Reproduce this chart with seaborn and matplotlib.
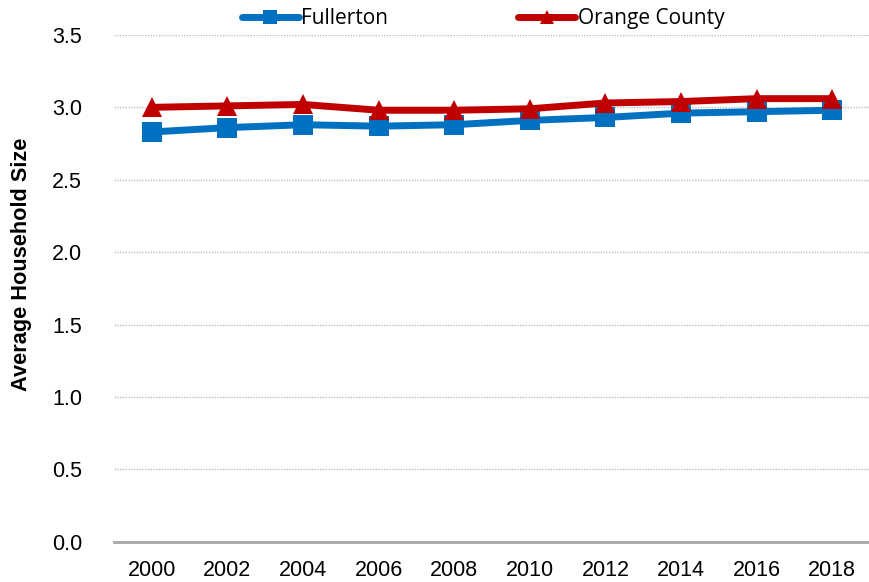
import pandas as pd
import matplotlib
matplotlib.use('Agg')
import matplotlib.pyplot as plt
import seaborn as sns

years = ['2000', '2002', '2004', '2006', '2008', '2010', '2012', '2014', '2016', '2018']
fullerton = [2.83, 2.86, 2.88, 2.87, 2.88, 2.91, 2.93, 2.96, 2.97, 2.98]
orange_county = [3.00, 3.01, 3.02, 2.98, 2.98, 2.99, 3.03, 3.04, 3.06, 3.06]
series_names = ['Fullerton', 'Orange County']

df = pd.DataFrame({
    'year': years * 2,
    'size': fullerton + orange_county,
    'area': [series_names[0]] * len(years) + [series_names[1]] * len(years),
})

sns.set_style('white')
plt.rcParams['font.family'] = ['Liberation Sans', 'DejaVu Sans']
plt.rcParams['text.color'] = 'black'
plt.rcParams['axes.labelcolor'] = 'black'

fig = plt.figure(figsize=(8.7, 5.82), dpi=100)
ax = fig.add_axes([0.131, 0.069, 0.869, 0.871])

sns.lineplot(data=df, x='year', y='size', hue='area', style='area',
             palette={'Fullerton': '#0070C0', 'Orange County': '#C00000'},
             markers={'Fullerton': 's', 'Orange County': '^'},
             dashes=False, linewidth=5, markersize=15, markeredgewidth=0,
             ax=ax, zorder=3)

ax.set_ylim(0, 3.5)
ax.set_xlim(-0.5, len(years) - 0.5)
ax.set_yticks([0, 0.5, 1.0, 1.5, 2.0, 2.5, 3.0, 3.5])
ax.set_yticklabels([f'{v:.1f}' for v in ax.get_yticks()])
ax.yaxis.grid(True, color='#BFBFBF', linestyle=(0, (1, 1)), linewidth=1)
ax.set_axisbelow(True)
for s in ['top', 'right', 'left']:
    ax.spines[s].set_visible(False)
ax.spines['bottom'].set_color('#A6A6A6')
ax.spines['bottom'].set_linewidth(2)
ax.tick_params(axis='both', labelsize=15.5, length=0, colors='black')
ax.tick_params(axis='x', pad=13)
ax.tick_params(axis='y', pad=23)
ax.set_xlabel('')
ax.set_ylabel('Average Household Size', fontsize=15.7, fontweight='bold', color='black')
ax.yaxis.set_label_coords(-0.108, 0.548)

handles, labels = ax.get_legend_handles_labels()
ax.legend(handles, labels, loc='lower center', bbox_to_anchor=(0.488, 0.975), ncol=2,
          frameon=False, handlelength=2.75, handletextpad=0.1, markerscale=0.7,
          columnspacing=6.25, labelcolor='black', prop={'family': 'Open Sans', 'size': 15})

fig.savefig('out.png', dpi=100)
